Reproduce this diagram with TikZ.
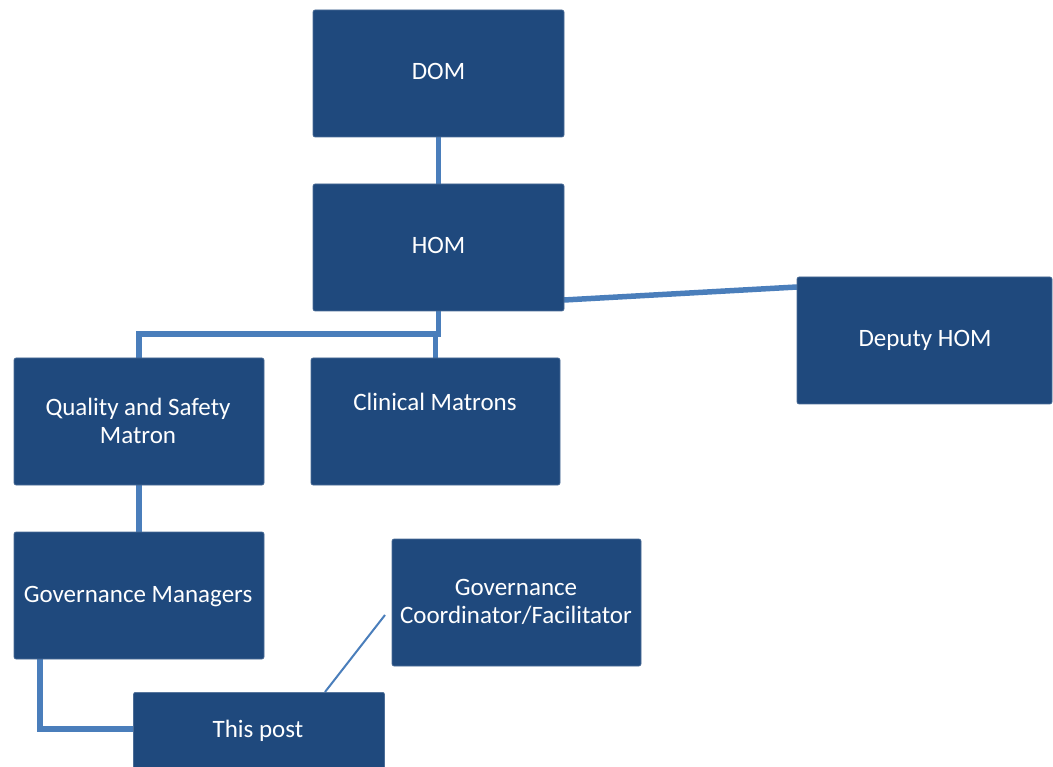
\documentclass[tikz,border=0pt]{standalone}
\usepackage{fontspec}
\setmainfont{Carlito}
\usetikzlibrary{backgrounds}
\definecolor{boxblue}{HTML}{1F497D}
\definecolor{lineblue}{HTML}{4A7EBB}
\begin{document}
\begin{tikzpicture}[x=1pt,y=-1pt,
  box/.style={fill=boxblue, draw=boxblue!80!white, line width=0.6pt, rounded corners=2pt, inner sep=0pt, minimum width=#1, minimum height=127},
  box/.default=251,
  txt/.style={text=white, font=\fontsize{25}{28}\selectfont, inner sep=0pt, anchor=base, align=center},
  conn/.style={draw=lineblue, line width=5.5pt, line join=miter},
  thin/.style={draw=lineblue, line width=2pt}]
\clip (0,0) rectangle (1053,767);
% boxes
\node[box] (dom) at (438.5,73.5) {};
\node[box] (hom) at (438.5,247.5) {};
\node[box=255] (dep) at (924.5,340.5) {};
\node[box=250] (qs) at (139,421.5) {};
\node[box=249] (cm) at (435.5,421.5) {};
\node[box=250] (gm) at (139,595.5) {};
\node[box=249] (gc) at (516.5,602.5) {};
\node[box=251,anchor=north] (tp) at (259,692) {};
% junction coordinates
\coordinate (j1) at (438.5,334);
\coordinate (j2) at (139,334);
\coordinate (j3) at (435.5,334);
\coordinate (hr) at (564,300);
\coordinate (dl) at (797,287);
\coordinate (gm1) at (40,729);
\coordinate (tp1) at (325,692);
\coordinate (gc1) at (385,615);
% connectors behind boxes
\begin{scope}[on background layer]
\fill[white] (0,0) rectangle (1053,767);
\draw[conn] (dom.south) -- (hom.north);
\draw[conn] (hom.south) -- (j1) -- (j2) -- (qs.north -| j2);
\draw[conn] (j3) -- (cm.north);
\draw[conn] (hr) -- (dl);
\draw[conn] (qs.south) -- (gm.north);
\draw[conn] (gm.south -| gm1) -- (gm1) -- (tp.west |- gm1);
\draw[thin] (tp1) -- (gc1);
\end{scope}
% texts
\node[txt] (domt) at (438.5,80) {DOM};
\node[txt] (homt) at (438.5,254) {HOM};
\node[txt] (dept) at (925,347) {Deputy HOM};
\node[txt] (qst) at (138,443) {Quality and Safety\\Matron};
\node[txt] (cmt) at (435,410) {Clinical Matrons};
\node[txt] (gmt) at (138,602) {Governance Managers};
\node[txt] (gct) at (516,623) {Governance\\Coordinator/Facilitator};
\node[txt] (tpt) at (258,737) {This post};
\end{tikzpicture}
\end{document}
